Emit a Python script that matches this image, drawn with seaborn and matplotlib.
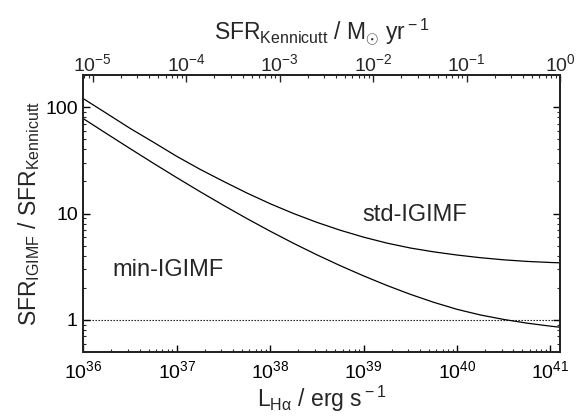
import numpy as np
import pandas as pd
import matplotlib
matplotlib.use("Agg")
import matplotlib.pyplot as plt
import seaborn as sns
from matplotlib.ticker import LogLocator, NullFormatter, FixedLocator, FixedFormatter

# ---- data ----
log_L = [36.0, 36.25, 36.5, 36.75, 37.0, 37.25, 37.5, 37.75, 38.0, 38.25, 38.5,
         38.75, 39.0, 39.25, 39.5, 39.75, 40.0, 40.25, 40.5, 40.75, 41.0, 41.1]
log_std = [2.079, 1.94, 1.80, 1.67, 1.537, 1.415, 1.302, 1.193, 1.092, 1.000, 0.917,
           0.843, 0.778, 0.722, 0.676, 0.640, 0.610, 0.585, 0.565, 0.550, 0.540, 0.537]
log_min = [1.891, 1.750, 1.610, 1.472, 1.337, 1.205, 1.077, 0.953, 0.834, 0.720, 0.612,
           0.510, 0.414, 0.324, 0.241, 0.166, 0.100, 0.047, 0.005, -0.030, -0.058, -0.068]
y_ticks = [1, 10, 100]
y_tick_labels = ["1", "10", "100"]
kennicutt = 7.9e-42
label_std = "std-IGIMF"
label_min = "min-IGIMF"

df = pd.DataFrame({
    "L": np.concatenate([10 ** np.array(log_L)] * 2),
    "ratio": np.concatenate([10 ** np.array(log_std), 10 ** np.array(log_min)]),
    "model": [label_std] * len(log_L) + [label_min] * len(log_L),
})

sns.set_style("ticks")
plt.rcParams["font.family"] = ["Liberation Sans", "DejaVu Sans"]
plt.rcParams["mathtext.fontset"] = "custom"
plt.rcParams["mathtext.rm"] = "Liberation Sans"
plt.rcParams["mathtext.it"] = "Liberation Sans:italic"
plt.rcParams["mathtext.bf"] = "Liberation Sans:bold"

fig = plt.figure(figsize=(5.79, 4.16), dpi=100)
ax = fig.add_axes([0.1439, 0.1538, 0.8233, 0.6659])

sns.lineplot(data=df, x="L", y="ratio", hue="model", units="model", estimator=None,
             palette={label_std: "black", label_min: "black"}, linewidth=0.9,
             legend=False, ax=ax, sort=False)

ax.set_xscale("log")
ax.set_yscale("log")
xlo, xhi = 1e36, 1.0 / kennicutt
ax.set_xlim(xlo, xhi)
ax.set_ylim(0.5, 200)

ax.axhline(1.0, color="black", linestyle=(0, (1.2, 1.5)), linewidth=0.8)

ax.text(10 ** 39.55, 9.7, label_std, fontsize=17, ha="center", va="center")
ax.text(10 ** 36.91, 2.94, label_min, fontsize=17, ha="center", va="center")

ax.yaxis.set_major_locator(FixedLocator(y_ticks))
ax.yaxis.set_major_formatter(FixedFormatter(y_tick_labels))
ax.yaxis.set_minor_locator(LogLocator(base=10, subs=np.arange(2, 10)))
ax.yaxis.set_minor_formatter(NullFormatter())
ax.xaxis.set_major_locator(LogLocator(base=10, numticks=20))
ax.xaxis.set_minor_locator(LogLocator(base=10, subs=np.arange(2, 10), numticks=20))
ax.xaxis.set_minor_formatter(NullFormatter())

for s in ax.spines.values():
    s.set_linewidth(1.3)
    s.set_color("black")
ax.tick_params(which="major", direction="in", length=5, width=1.0, labelsize=14,
               colors="black", right=True, pad=4)
ax.tick_params(axis="x", which="major", pad=6)
ax.tick_params(which="minor", direction="in", length=2.5, width=0.8, right=True)
ax.tick_params(axis="x", which="both", top=False)

ax.set_xlabel(r"L$_{\rm H\alpha}$ / erg s$^{\rm -1}$", fontsize=16.5, labelpad=1)
ax.set_ylabel(r"SFR$_{\rm IGIMF}$ / SFR$_{\rm Kennicutt}$", fontsize=16.5, labelpad=2)

top = ax.twiny()
top.set_xscale("log")
top.set_xlim(xlo * kennicutt, xhi * kennicutt)
top.xaxis.set_major_locator(LogLocator(base=10, numticks=20))
top.xaxis.set_minor_locator(LogLocator(base=10, subs=np.arange(2, 10), numticks=20))
top.xaxis.set_minor_formatter(NullFormatter())
top.tick_params(which="major", direction="in", length=5, width=1.0, labelsize=14, pad=0)
top.tick_params(which="minor", direction="in", length=2.5, width=0.8)
for s in top.spines.values():
    s.set_linewidth(1.3)
top.set_xlabel(r"SFR$_{\rm Kennicutt}$ / M$_{\odot}$ yr$^{\rm -1}$", fontsize=16.5, labelpad=9)

fig.savefig("out.png", dpi=100)
